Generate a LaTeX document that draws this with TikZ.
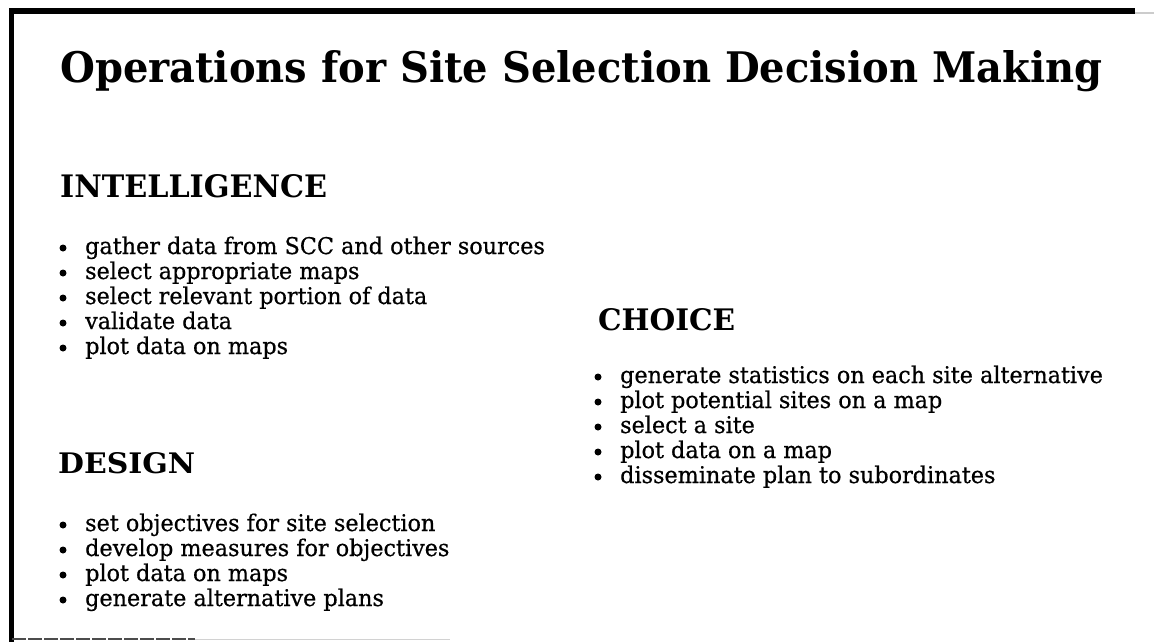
\documentclass[tikz,border=0pt]{standalone}
\usepackage{fontspec}
\setmainfont{DejaVu Serif}
\newfontfamily\bodyfont[FakeBold=0.6]{DejaVu Serif}
\usepackage{graphicx}
\tikzset{
  bodytxt/.style={anchor=base west, inner sep=0pt, font=\bodyfont\fontsize{23}{27}\selectfont},
  bul/.style={circle, fill=black, inner sep=0pt, minimum size=7pt},
  head/.style={anchor=base west, inner sep=0pt},
  frameline/.style={line width=5.5pt, black}
}
\newcommand\bx[1]{\scalebox{0.97}[1]{#1}}
\begin{document}
\begin{tikzpicture}[x=1pt,y=-1pt]
\useasboundingbox (0,0) rectangle (1154,642);
\fill[white] (0,0) rectangle (1154,642);
% frame
\draw[frameline] (10,11) -- (1135,11);
\draw[gray!40, line width=1.5pt] (1135,13) -- (1154,13);
\draw[frameline] (11.5,8.5) -- (11.5,642);
\draw[black!70, line width=1.2pt, dash pattern=on 14pt off 2pt] (12,639) -- (195,639);
\draw[gray!35, line width=1pt] (195,639) -- (450,639);
% title
\node[head] (title) at (60,82) {\resizebox{1042pt}{32pt}{\bfseries Operations for Site Selection Decision Making}};
% headings
\node[head] (intel) at (60,197) {\resizebox{267pt}{23pt}{\bfseries INTELLIGENCE}};
\node[head] (design) at (58,473) {\resizebox{137pt}{21pt}{\bfseries DESIGN}};
\node[head] (choice) at (598,330) {\resizebox{137pt}{22pt}{\bfseries CHOICE}};
% intelligence
\node[bul] (ib1) at (63,248) {};
\node[bodytxt] (i1) at (85,254) {\bx{gather data from SCC and other sources}};
\node[bul] (ib2) at (63,273) {};
\node[bodytxt] (i2) at (85,279) {\bx{select appropriate maps}};
\node[bul] (ib3) at (63,298) {};
\node[bodytxt] (i3) at (85,304) {\bx{select relevant portion of data}};
\node[bul] (ib4) at (63,323) {};
\node[bodytxt] (i4) at (85,329) {\bx{validate data}};
\node[bul] (ib5) at (63,348) {};
\node[bodytxt] (i5) at (85,354) {\bx{plot data on maps}};
% design
\node[bul] (db1) at (63,525) {};
\node[bodytxt] (d1) at (85,531) {\bx{set objectives for site selection}};
\node[bul] (db2) at (63,550) {};
\node[bodytxt] (d2) at (85,556) {\bx{develop measures for objectives}};
\node[bul] (db3) at (63,575) {};
\node[bodytxt] (d3) at (85,581) {\bx{plot data on maps}};
\node[bul] (db4) at (63,600) {};
\node[bodytxt] (d4) at (85,606) {\bx{generate alternative plans}};
% choice
\node[bul] (cb1) at (598,377) {};
\node[bodytxt] (c1) at (620,383) {\bx{generate statistics on each site alternative}};
\node[bul] (cb2) at (598,402) {};
\node[bodytxt] (c2) at (620,408) {\bx{plot potential sites on a map}};
\node[bul] (cb3) at (598,427) {};
\node[bodytxt] (c3) at (620,433) {\bx{select a site}};
\node[bul] (cb4) at (598,452) {};
\node[bodytxt] (c4) at (620,458) {\bx{plot data on a map}};
\node[bul] (cb5) at (598,477) {};
\node[bodytxt] (c5) at (620,483) {\bx{disseminate plan to subordinates}};
\end{tikzpicture}
\end{document}
